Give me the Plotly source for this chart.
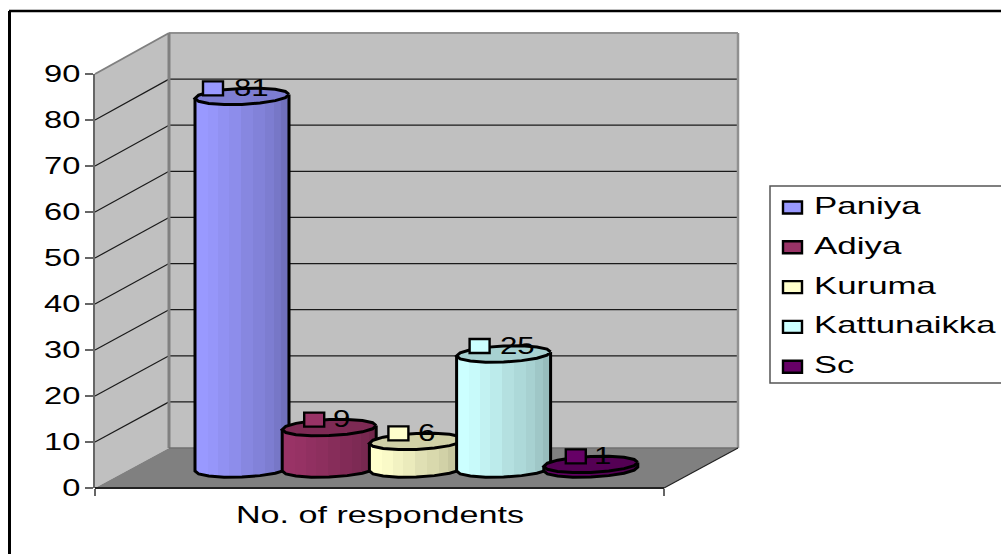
import numpy as np
import plotly.graph_objects as go

# Respondents per community
communities = ["Paniya", "Adiya", "Kuruma", "Kattunaikka", "Sc"]
respondents = [81, 9, 6, 25, 1]
colors = ["#9999FF", "#993366", "#FFFFCC", "#CCFFFF", "#660066"]
y_ticks = [0, 10, 20, 30, 40, 50, 60, 70, 80, 90]
category_label = "No. of respondents"

W, H = 1001, 554
FONT = "Liberation Sans"
FONT_SIZE = 24
PX_PER_UNIT = 4.6
STEP = 87.2

# Chart box geometry, in pixels from the top-left corner
FRONT_L, FRONT_R, FRONT_0, FRONT_90 = 95, 664, 488, 74
BACK_L, BACK_R, BACK_0, BACK_90 = 169, 738, 448, 33
PLANE_0, FIRST_CENTER = 469, 242
PLANE_FLOOR = -5  # the cylinder bases dip below zero on their own axis

# Cylinder shape, in axis units
RX = 47 / STEP
RY = 8 / PX_PER_UNIT
TILT = 2 / PX_PER_UNIT
SIDES = 16
FACET_SHADE = [0.94, 1, 1, 0.98, 0.95, 0.92, 0.88, 0.85, 0.82, 0.78, 0.74, 0.70]
CAP_SHADE = 0.82
KEY_DX = [-29, -15, -18, -24, -15]
TEXT_DX = [-10, 2, 0, -6, 1]


def px(x):
    return x / W


def py(y):
    return 1 - y / H


def shade(color, factor):
    rgb = [int(color[i:i + 2], 16) for i in (1, 3, 5)]
    return "rgb(%d,%d,%d)" % tuple(round(c * factor) for c in rgb)


def polygon(points):
    return "M" + " L".join(f"{px(x):.5f},{py(y):.5f}" for x, y in points) + " Z"


fig = go.Figure()

# Empty trace that keeps the front axes on the page
fig.add_scatter(x=[0], y=[0], mode="markers", marker=dict(opacity=0), xaxis="x", yaxis="y",
                showlegend=False, hoverinfo="skip")

angles = np.linspace(0, 2 * np.pi, SIDES + 1)
ring_x = RX * np.cos(angles)
ring_y = RY * np.sin(angles) + TILT * np.cos(angles)
low_theta = np.linspace(np.pi, 2 * np.pi, SIDES // 2 + 1)
low_x = RX * np.cos(low_theta)
low_y = RY * np.sin(low_theta) + TILT * np.cos(low_theta)
facet_edges = -RX * np.cos(np.linspace(0, np.pi, len(FACET_SHADE) + 1))

strip_w = 1.5 / STEP
strip_x = np.arange(-RX + strip_w / 2, RX, strip_w)

for i, (name, value, color) in enumerate(zip(communities, respondents, colors)):
    xa, ya = "x2" if i == 0 else f"x{i + 2}", "y2" if i == 0 else f"y{i + 2}"
    # Body: narrow vertical strips shaded facet by facet
    facet = np.clip(np.searchsorted(facet_edges, strip_x) - 1, 0, len(FACET_SHADE) - 1)
    fig.add_bar(
        x=i + strip_x,
        y=[value] * len(strip_x),
        base=np.interp(strip_x, low_x, low_y),
        width=strip_w * 1.2,
        marker=dict(color=[shade(color, FACET_SHADE[f]) for f in facet], line_width=0),
        xaxis=xa, yaxis=ya, name=name, showlegend=False, hoverinfo="skip",
    )
    # Silhouette of the side and bottom
    fig.add_scatter(
        x=i + np.concatenate([[low_x[0]], low_x, [low_x[-1]]]),
        y=np.concatenate([[low_y[0] + value], low_y, [low_y[-1] + value]]),
        mode="lines", line=dict(color="black", width=3),
        xaxis=xa, yaxis=ya, showlegend=False, hoverinfo="skip",
    )
    # Top cap
    fig.add_scatter(
        x=i + ring_x, y=value + ring_y, mode="lines", fill="toself",
        fillcolor=shade(color, CAP_SHADE), line=dict(color="black", width=3),
        xaxis=xa, yaxis=ya, showlegend=False, hoverinfo="skip",
    )

shapes = []
# Side wall, back wall and floor
for corners, fill in [
    ([(FRONT_L, FRONT_90), (BACK_L, BACK_90), (BACK_L, BACK_0), (FRONT_L, FRONT_0)], "#C0C0C0"),
    ([(BACK_L, BACK_90), (BACK_R, BACK_90), (BACK_R, BACK_0), (BACK_L, BACK_0)], "#C0C0C0"),
    ([(FRONT_L, FRONT_0), (FRONT_R, FRONT_0), (BACK_R, BACK_0), (BACK_L, BACK_0)], "#808080"),
]:
    shapes.append(dict(type="path", xref="paper", yref="paper", path=polygon(corners),
                       fillcolor=fill, line_width=0, layer="below"))


def segment(x0, y0, x1, y1, color, width, layer="below"):
    shapes.append(dict(type="line", xref="paper", yref="paper", x0=px(x0), y0=py(y0), x1=px(x1), y1=py(y1),
                       line=dict(color=color, width=width), layer=layer))


# Gridlines wrap around the side wall and back wall
for t in y_ticks[1:-1]:
    fy = FRONT_0 - (FRONT_0 - FRONT_90) * t / 90
    by = BACK_0 - (BACK_0 - BACK_90) * t / 90
    segment(FRONT_L, fy, BACK_L, by, "#1a1a1a", 1.2)
    segment(BACK_L, by, BACK_R, by, "#1a1a1a", 1.2)

# Wall edges
segment(FRONT_L, FRONT_90, BACK_L, BACK_90, "#808080", 2)
segment(BACK_L, BACK_90, BACK_R, BACK_90, "#909090", 2)
segment(BACK_L, BACK_90, BACK_L, BACK_0, "#808080", 3)
segment(BACK_R, BACK_90, BACK_R, BACK_0, "#909090", 2.5)
segment(BACK_L, BACK_0, BACK_R, BACK_0, "#707070", 1.5)
segment(FRONT_R, FRONT_0, BACK_R, BACK_0, "#222222", 1.2)
segment(FRONT_L, FRONT_0, FRONT_R, FRONT_0, "#222222", 2)

# Outer frame, open at the right and bottom
segment(9.5, 11, 9.5, H, "black", 3, "above")
segment(9, 11, W, 11, "black", 2.5, "above")

annotations = []
label_font = dict(family=FONT, size=FONT_SIZE, color="black")

# Value labels: a colour key and the number above each cylinder
for i, (value, color) in enumerate(zip(respondents, colors)):
    shapes.append(dict(type="rect", xref="x2", yref="y2", xsizemode="pixel", ysizemode="pixel",
                       xanchor=i, yanchor=value,
                       x0=KEY_DX[i] - 10, x1=KEY_DX[i] + 10, y0=1, y1=15,
                       fillcolor=color, line=dict(color="black", width=2.4), layer="above"))
    annotations.append(dict(xref="x2", yref="y2", x=i, y=value, xshift=TEXT_DX[i], yshift=9,
                            xanchor="left", yanchor="middle", text=str(value), showarrow=False,
                            font=label_font))

# Legend box at the right edge
shapes.append(dict(type="rect", xref="paper", yref="paper", x0=px(770), x1=px(1003), y0=py(383), y1=py(186),
                   fillcolor="white", line=dict(color="#555555", width=1.5), layer="above"))
for i, (name, color) in enumerate(zip(communities, colors)):
    mid = 207.5 + 39.8 * i
    shapes.append(dict(type="rect", xref="paper", yref="paper", x0=px(783), x1=px(802), y0=py(mid + 6), y1=py(mid - 6),
                       fillcolor=color, line=dict(color="black", width=2.4), layer="above"))
    annotations.append(dict(xref="paper", yref="paper", x=px(812), y=py(mid - 2), xanchor="left", yanchor="middle",
                            text=name, showarrow=False, font=label_font))

# Category label under the floor
annotations.append(dict(xref="paper", yref="paper", x=px(234), y=py(514), xanchor="left", yanchor="middle",
                        text=category_label, showarrow=False, font=label_font))

hidden = dict(visible=False, showgrid=False, zeroline=False, fixedrange=True, automargin=False)
x_plane_range = [-FIRST_CENTER / STEP, (W - FIRST_CENTER) / STEP]
y_plane_range = [PLANE_FLOOR, 90]
y_plane_domain = [py(PLANE_0 - PLANE_FLOOR * PX_PER_UNIT), py(PLANE_0 - 90 * PX_PER_UNIT)]

layout = dict(
    width=W, height=H, autosize=False,
    margin=dict(l=0, r=0, t=0, b=0, pad=0, autoexpand=False),
    paper_bgcolor="white", plot_bgcolor="rgba(0,0,0,0)",
    barmode="overlay", showlegend=False,
    shapes=shapes, annotations=annotations,
    xaxis=dict(domain=[px(FRONT_L), px(FRONT_R)], range=[0, 1], tickvals=[0, 1], ticktext=["", ""],
               ticks="outside", ticklen=7, tickcolor="#666666", tickwidth=1.5, automargin=False,
               showgrid=False, zeroline=False, showline=False, anchor="y", fixedrange=True),
    yaxis=dict(domain=[py(FRONT_0), py(FRONT_90)], range=[0, 90], tickvals=y_ticks,
               ticks="outside", ticklen=8, tickcolor="#666666", tickwidth=1.5, automargin=False,
               tickfont=label_font,
               showgrid=False, zeroline=False, showline=True, linecolor="#666666", linewidth=1.5,
               anchor="x", fixedrange=True),
    xaxis2=dict(domain=[0, 1], range=x_plane_range, anchor="y2", **hidden),
    yaxis2=dict(domain=y_plane_domain, range=y_plane_range, anchor="x2", **hidden),
)
for i in range(1, len(communities)):
    layout[f"xaxis{i + 2}"] = dict(overlaying="x2", range=x_plane_range, anchor=f"y{i + 2}", **hidden)
    layout[f"yaxis{i + 2}"] = dict(overlaying="y2", range=y_plane_range, anchor=f"x{i + 2}", **hidden)

fig.update_layout(**layout)

# The chart's lettering is set wide: stretch the glyphs of every label
STRETCH = """
var gd = document.querySelector('.plotly-graph-div');
function widen(t, f, pinLeft) {
  var b0 = t.getBBox();
  t.setAttribute('textLength', b0.width * f);
  t.setAttribute('lengthAdjust', 'spacingAndGlyphs');
  if (pinLeft) {
    var b1 = t.getBBox();
    t.setAttribute('x', parseFloat(t.getAttribute('x') || 0) + b0.x - b1.x);
  }
}
gd.querySelectorAll('.ytick text').forEach(function (t) { widen(t, 1.36, false); });
gd.querySelectorAll('.annotation-text').forEach(function (t) {
  var s = t.textContent;
  widen(t, /^[0-9]+$/.test(s) ? 1.3 : (s.indexOf(' ') >= 0 ? 1.42 : 1.44), true);
});
"""

fig.write_html("out.html", post_script=STRETCH, config=dict(displayModeBar=False))
